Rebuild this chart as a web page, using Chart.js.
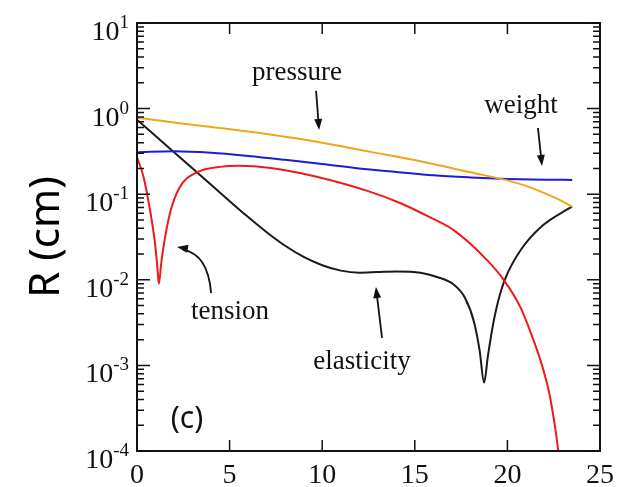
<!DOCTYPE html>
<html><head><meta charset="utf-8">
<script src="https://cdn.jsdelivr.net/npm/chart.js@4/dist/chart.umd.min.js"></script>
<style>html,body{margin:0;padding:0;background:#fff}</style>
</head><body>
<canvas id="c" width="630" height="487"></canvas>
<script>
// ---- data ----
const xTickValues = [0, 5, 10, 15, 20, 25];
const yTickExponents = [1, 0, -1, -2, -3, -4];

const pressureX = [0, 2, 4, 6, 8, 10, 12, 14, 16, 18, 20, 21, 22, 23, 23.5];
const pressureY = [0.78, 0.69, 0.61, 0.54, 0.47, 0.40, 0.33, 0.275, 0.225, 0.18, 0.145, 0.125, 0.103, 0.082, 0.071];

const weightX = [0, 2, 4, 6, 8, 10, 12, 14, 16, 18, 20, 22, 23.5];
const weightY = [0.31, 0.318, 0.305, 0.28, 0.252, 0.225, 0.2, 0.182, 0.166, 0.157, 0.151, 0.148, 0.147];

const tensionX = [0, 0.35, 0.7, 0.97, 1.1, 1.18, 1.3, 1.4, 1.78, 2.3, 3.24, 4.6, 5.5, 6.5, 8, 9.7, 12.4, 14.2, 15.8, 17.1, 18.9, 19.8, 20.7, 21.4, 21.9, 22.3, 22.75, 23.0];
const tensionY = [0.27, 0.16, 0.066, 0.027, 0.014, 0.009, 0.015, 0.022, 0.06, 0.12, 0.18, 0.21, 0.215, 0.21, 0.19, 0.16, 0.11, 0.079, 0.054, 0.038, 0.017, 0.010, 0.0048, 0.002, 0.00095, 0.00043, 0.0001, 0.00003];

const elasticityX = [0, 2, 4, 6, 7, 8, 9, 10, 11, 12, 13, 14, 15.3, 16.2, 17.1, 17.7, 18.2, 18.5, 18.74, 18.95, 19.2, 19.5, 19.9, 20.7, 21.9, 23.5];
const elasticityY = [0.74, 0.31, 0.129, 0.054, 0.036, 0.025, 0.0185, 0.0148, 0.0128, 0.0121, 0.0123, 0.0125, 0.0121, 0.0108, 0.0088, 0.0062, 0.0032, 0.0015, 0.00063, 0.0013, 0.0028, 0.0056, 0.0105, 0.022, 0.043, 0.072];

function pts(xs, ys) { return xs.map((x, i) => ({ x: x, y: ys[i] })); }

const SERIF = '"Liberation Serif", "DejaVu Serif", serif';

const decor = {
  id: 'decor',
  afterDraw(chart) {
    const ctx = chart.ctx, a = chart.chartArea;
    const xs = chart.scales.x, ys = chart.scales.y;
    ctx.save();
    ctx.strokeStyle = '#111';
    ctx.fillStyle = '#111';
    ctx.lineWidth = 2;
    ctx.strokeRect(a.left, a.top, a.right - a.left, a.bottom - a.top);
    ctx.lineWidth = 1.5;
    ctx.beginPath();
    for (const v of xTickValues) {
      if (v === 0 || v === 25) continue;
      const px = xs.getPixelForValue(v);
      ctx.moveTo(px, a.bottom); ctx.lineTo(px, a.bottom - 11);
      ctx.moveTo(px, a.top); ctx.lineTo(px, a.top + 11);
    }
    for (const e of yTickExponents) {
      const py = ys.getPixelForValue(Math.pow(10, e));
      ctx.moveTo(a.left, py); ctx.lineTo(a.left + 13, py);
      ctx.moveTo(a.right, py); ctx.lineTo(a.right - 13, py);
      if (e < 1) {
        for (let m = 2; m <= 9; m++) {
          const pm = ys.getPixelForValue(m * Math.pow(10, e));
          ctx.moveTo(a.left, pm); ctx.lineTo(a.left + 7, pm);
          ctx.moveTo(a.right, pm); ctx.lineTo(a.right - 7, pm);
        }
      }
    }
    ctx.stroke();
    ctx.textAlign = 'right';
    ctx.textBaseline = 'alphabetic';
    for (const e of yTickExponents) {
      const py = ys.getPixelForValue(Math.pow(10, e));
      const expStr = String(e);
      ctx.font = '19px ' + SERIF;
      const ew = ctx.measureText(expStr).width;
      const rx = a.left - 8;
      ctx.fillText(expStr, rx, py + 5);
      ctx.font = '28px ' + SERIF;
      ctx.fillText('10', rx - ew, py + 17);
    }
    const P = (x, y) => [xs.getPixelForValue(x), ys.getPixelForValue(y)];
    ctx.font = '27px ' + SERIF;
    ctx.textAlign = 'center';
    ctx.textBaseline = 'middle';
    const labels = [
      ['pressure', 8.64, 2.61],
      ['weight', 20.73, 1.07],
      ['tension', 5.02, 0.0042],
      ['elasticity', 12.15, 0.0011]
    ];
    for (const [t, x, y] of labels) { const p = P(x, y); ctx.fillText(t, p[0], p[1]); }
    ctx.font = '30px "Noto Sans", "Open Sans", sans-serif';
    const pc = P(2.7, 0.000236);
    ctx.fillText('(c)', pc[0], pc[1]);

    function head(x0, y0, x1, y1) {
      const ang = Math.atan2(y1 - y0, x1 - x0);
      const L = 11, W = 4;
      ctx.beginPath();
      ctx.moveTo(x1, y1);
      ctx.lineTo(x1 - L * Math.cos(ang) + W * Math.sin(ang), y1 - L * Math.sin(ang) - W * Math.cos(ang));
      ctx.lineTo(x1 - L * Math.cos(ang) - W * Math.sin(ang), y1 - L * Math.sin(ang) + W * Math.cos(ang));
      ctx.closePath();
      ctx.fill();
    }
    function arrow(t, h) {
      const p0 = P(t[0], t[1]), p1 = P(h[0], h[1]);
      const ang = Math.atan2(p1[1] - p0[1], p1[0] - p0[0]);
      ctx.beginPath();
      ctx.moveTo(p0[0], p0[1]);
      ctx.lineTo(p1[0] - 8 * Math.cos(ang), p1[1] - 8 * Math.sin(ang));
      ctx.stroke();
      head(p0[0], p0[1], p1[0], p1[1]);
    }
    ctx.lineWidth = 1.8;
    arrow([9.67, 1.61], [9.83, 0.562]);
    arrow([21.65, 0.593], [21.87, 0.214]);
    arrow([13.23, 0.0021], [12.9, 0.00824]);
    const t0 = P(4.0, 0.00701), tc = P(3.83, 0.020), t1 = P(2.16, 0.0242);
    ctx.beginPath();
    ctx.moveTo(t0[0], t0[1]);
    ctx.quadraticCurveTo(tc[0], tc[1], t1[0] + 6, t1[1] + 3);
    ctx.stroke();
    head(tc[0], tc[1] - 2, t1[0], t1[1]);
    ctx.restore();
  }
};

new Chart(document.getElementById('c'), {
  type: 'line',
  data: {
    datasets: [
      { label: 'pressure', data: pts(pressureX, pressureY), borderColor: '#F2A51C' },
      { label: 'weight', data: pts(weightX, weightY), borderColor: '#1C1CD2' },
      { label: 'tension', data: pts(tensionX, tensionY), borderColor: '#EE1A1A' },
      { label: 'elasticity', data: pts(elasticityX, elasticityY), borderColor: '#1A1A1A' }
    ]
  },
  options: {
    responsive: false,
    devicePixelRatio: 1,
    animation: false,
    layout: { padding: { top: 23, right: 30, left: 0, bottom: 0 } },
    elements: {
      point: { radius: 0 },
      line: { borderWidth: 2, cubicInterpolationMode: 'monotone' }
    },
    plugins: { legend: { display: false }, tooltip: { enabled: false } },
    scales: {
      x: {
        type: 'linear', min: 0, max: 25,
        grid: { display: false, drawTicks: false },
        border: { display: false },
        ticks: {
          stepSize: 5, autoSkip: false, maxRotation: 0, padding: 8,
          color: '#111',
          font: { family: 'Liberation Serif', size: 28 },
          callback: (v) => xTickValues.includes(v) ? String(v) : ''
        },
        afterFit: (s) => { s.height = 36; }
      },
      y: {
        type: 'logarithmic', min: 1e-4, max: 10,
        grid: { display: false, drawTicks: false },
        border: { display: false },
        ticks: { display: false },
        title: {
          display: true, text: 'R (cm)', color: '#000',
          font: { family: 'Noto Sans', size: 42 },
          padding: { top: 22, bottom: 0 }
        },
        afterFit: (s) => { s.width = 137; }
      }
    }
  },
  plugins: [decor]
});
</script>
</body></html>
